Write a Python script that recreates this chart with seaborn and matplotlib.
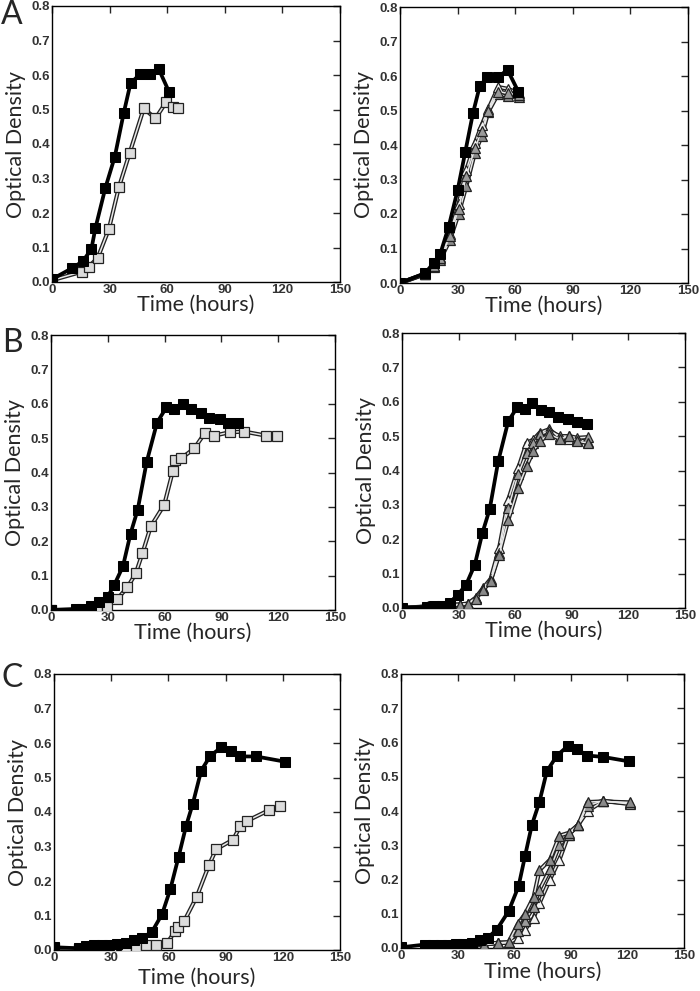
import numpy as np
import pandas as pd
import matplotlib
matplotlib.use('Agg')
import matplotlib.pyplot as plt
import seaborn as sns

# ---- data (time in hours, optical density) ----
# panel A
a_t_black = [0, 10.4, 16, 20.5, 22.6, 27.8, 32.7, 37.4, 40.9, 46, 51.3, 55.7, 60.9]
a_od_black = [0.008, 0.04, 0.06, 0.095, 0.156, 0.273, 0.363, 0.491, 0.576, 0.603, 0.603, 0.616, 0.552]
a_t_gray = [0, 15.7, 19.1, 23.8, 29.6, 34.8, 40.5, 47.8, 53.9, 59.6, 63.1, 65.6]
a_od_gray = [0.005, 0.03, 0.044, 0.07, 0.153, 0.274, 0.375, 0.503, 0.474, 0.523, 0.508, 0.505]

a2_t_black = [0, 13, 17.5, 21, 25.3, 30, 34, 38, 41.5, 45.5, 51.2, 56, 61.6]
a2_od_black = [0.0, 0.028, 0.058, 0.085, 0.162, 0.269, 0.38, 0.492, 0.57, 0.597, 0.597, 0.618, 0.555]
a2_t_tri = [0, 13, 17.5, 21, 26, 30.5, 34.5, 39, 42.5, 46, 51.2, 56, 61.8]
a2_od_tri_g1 = [0.0, 0.025, 0.045, 0.068, 0.124, 0.2, 0.28, 0.377, 0.425, 0.496, 0.549, 0.541, 0.539]
a2_od_tri_g2 = [0.0, 0.026, 0.048, 0.072, 0.135, 0.215, 0.31, 0.39, 0.44, 0.5, 0.555, 0.55, 0.545]
a2_od_tri_w = [0.0, 0.027, 0.05, 0.075, 0.143, 0.228, 0.327, 0.405, 0.457, 0.505, 0.568, 0.563, 0.551]

# panel B
b_t_black = [0, 13, 16.5, 21, 25.3, 30, 33.5, 38, 42, 45.8, 50.5, 56, 61, 65, 69.5, 74, 79, 83.7, 89, 93.5, 99]
b_od_black = [0.0, 0.003, 0.003, 0.013, 0.024, 0.039, 0.074, 0.127, 0.222, 0.292, 0.43, 0.545, 0.59,
              0.584, 0.6, 0.584, 0.574, 0.56, 0.555, 0.543, 0.543]
b_t_gray = [0, 13.5, 18, 24.4, 29.7, 35, 40.4, 44.8, 48.3, 52.7, 59.8, 64.3, 65.5, 68.7, 75.7,
            81.4, 86, 94.3, 102, 113.8, 119.6]
b_od_gray = [0.0, 0.0, 0.0, 0.0, 0.01, 0.032, 0.066, 0.107, 0.165, 0.243, 0.306, 0.403, 0.435,
             0.441, 0.47, 0.516, 0.507, 0.517, 0.519, 0.507, 0.507]

b2_t_black = [0, 13, 17, 21.4, 25.3, 29.7, 34, 38.6, 42.6, 46.5, 51, 56.3, 61.2, 65, 69, 73.5, 78, 82.8, 88, 93, 98]
b2_od_black = [0.0, 0.003, 0.005, 0.007, 0.016, 0.039, 0.068, 0.126, 0.218, 0.288, 0.427, 0.543, 0.585,
               0.58, 0.597, 0.577, 0.569, 0.556, 0.55, 0.54, 0.536]
b2_t_tri = [0, 13.8, 17.5, 21.5, 26, 30.5, 35, 39, 43, 47, 51.5, 56.3, 61.6, 66, 69.6, 73, 78, 83.7, 88.7, 93, 98.5]
b2_od_tri_w = [0.0, 0.005, 0.005, 0.007, 0.01, 0.01, 0.013, 0.03, 0.058, 0.085, 0.175, 0.315, 0.407,
               0.48, 0.49, 0.51, 0.52, 0.495, 0.493, 0.49, 0.482]
b2_od_tri_g1 = [0.0, 0.004, 0.004, 0.006, 0.009, 0.01, 0.012, 0.028, 0.055, 0.08, 0.16, 0.29, 0.39,
                0.45, 0.48, 0.505, 0.515, 0.5, 0.5, 0.495, 0.497]
b2_od_tri_g2 = [0.0, 0.004, 0.004, 0.006, 0.008, 0.009, 0.012, 0.027, 0.052, 0.078, 0.155, 0.255, 0.35,
                0.412, 0.456, 0.485, 0.505, 0.492, 0.5, 0.485, 0.48]

# panel C
c_t_black = [0, 13, 17, 21, 25.4, 29, 33, 37.7, 42, 46, 51.4, 56.7, 61, 65.3, 69.3, 72.8, 77.2,
             82, 87.7, 92.6, 97.4, 106, 121]
c_od_black = [0.008, 0.005, 0.012, 0.014, 0.015, 0.015, 0.016, 0.019, 0.029, 0.034, 0.053, 0.104,
              0.176, 0.269, 0.36, 0.424, 0.52, 0.563, 0.587, 0.578, 0.561, 0.561, 0.546]
c_t_gray = [0, 13, 20, 30, 38, 43, 48.2, 53.5, 59.3, 63.7, 65.2, 68.4, 74.9, 81.2, 85, 94, 97.7,
            101.2, 113, 118.4]
c_od_gray = [0.005, 0.003, 0.005, 0.006, 0.008, 0.01, 0.015, 0.015, 0.02, 0.056, 0.066, 0.085,
             0.155, 0.245, 0.292, 0.32, 0.36, 0.374, 0.406, 0.416]

c2_t_black = [0, 12.7, 17, 21, 25, 29, 33, 37.5, 42, 46, 50.8, 57, 62.3, 65.8, 69.4, 73.3, 77.3,
              82.7, 88.3, 93.3, 98.6, 107, 120.7]
c2_od_black = [0.002, 0.01, 0.01, 0.01, 0.01, 0.011, 0.013, 0.016, 0.024, 0.03, 0.054, 0.107, 0.18,
               0.27, 0.36, 0.425, 0.516, 0.562, 0.589, 0.581, 0.562, 0.558, 0.545]
c2_t_tri = [0, 13, 20, 30, 38, 44, 51.2, 57, 62, 65.8, 70.3, 73.4, 79, 84, 88.8, 94, 98.9, 107, 121.5]
c2_od_tri_g1 = [0.0, 0.005, 0.005, 0.006, 0.007, 0.01, 0.015, 0.017, 0.071, 0.1, 0.149, 0.227, 0.258,
                0.328, 0.336, 0.36, 0.426, 0.428, 0.425]
c2_od_tri_g2 = [0.0, 0.005, 0.005, 0.006, 0.007, 0.01, 0.015, 0.016, 0.05, 0.08, 0.12, 0.17, 0.23,
                0.3, 0.33, 0.36, 0.415, 0.43, 0.42]
c2_od_tri_w = [0.0, 0.005, 0.005, 0.006, 0.007, 0.01, 0.015, 0.015, 0.029, 0.054, 0.088, 0.131, 0.2,
               0.258, 0.33, 0.36, 0.4, 0.428, 0.423]

x_ticks = [0, 30, 60, 90, 120, 150]
y_ticks = [0.0, 0.1, 0.2, 0.3, 0.4, 0.5, 0.6, 0.7, 0.8]

sns.set_style('white')
plt.rcParams['font.family'] = ['Lato', 'DejaVu Sans']

W, H = 700, 991
fig = plt.figure(figsize=(W / 100, H / 100), dpi=100)


def make_ax(left, right, top, bottom):
    return fig.add_axes([left / W, (H - bottom) / H, (right - left) / W, (bottom - top) / H])


def black_series(ax, t, od):
    sns.lineplot(x=t, y=od, ax=ax, color='black', lw=2.7, marker='s', markersize=7,
                 markerfacecolor='black', markeredgecolor='black', errorbar=None, zorder=5)


def outlined_series(ax, t, od, marker, face, size):
    sns.lineplot(x=t, y=od, ax=ax, color='#222222', lw=3.0, errorbar=None, zorder=3)
    sns.lineplot(x=t, y=od, ax=ax, color='#e8e8e8', lw=1.1, marker=marker, markersize=size,
                 markerfacecolor=face, markeredgecolor='#222222', markeredgewidth=0.9,
                 errorbar=None, zorder=4)


def style_ax(ax, xpad):
    ax.set_xlim(0, 150)
    ax.set_ylim(0, 0.8)
    ax.set_xticks(x_ticks)
    ax.set_yticks(y_ticks)
    ax.set_xticklabels([str(v) for v in x_ticks])
    ax.set_yticklabels([f'{v:.1f}' for v in y_ticks])
    ax.tick_params(direction='in', length=5, width=1, top=True, right=True, pad=1.5,
                   labelsize=9.5, labelcolor='#333333')
    for lab in ax.get_xticklabels() + ax.get_yticklabels():
        lab.set_family(['Liberation Sans', 'DejaVu Sans'])
        lab.set_weight('bold')
    for sp in ax.spines.values():
        sp.set_visible(True)
        sp.set_color('black')
        sp.set_linewidth(1)
    ax.set_xlabel('Time (hours)', fontsize=15.5, labelpad=xpad)
    ax.set_ylabel('Optical Density', fontsize=15.5, labelpad=4)


# A
ax = make_ax(52, 340, 6, 282)
outlined_series(ax, a_t_gray, a_od_gray, 's', '#dcdcdc', 7)
black_series(ax, a_t_black, a_od_black)
style_ax(ax, -1)

ax = make_ax(400, 688, 7, 283)
outlined_series(ax, a2_t_tri, a2_od_tri_g1, '^', '#8a8a8a', 7.5)
outlined_series(ax, a2_t_tri, a2_od_tri_w, '^', '#f4f4f4', 7.5)
outlined_series(ax, a2_t_tri, a2_od_tri_g2, '^', '#9a9a9a', 7.5)
black_series(ax, a2_t_black, a2_od_black)
style_ax(ax, -1)

# B
ax = make_ax(51, 335, 335, 610)
outlined_series(ax, b_t_gray, b_od_gray, 's', '#dcdcdc', 7)
black_series(ax, b_t_black, b_od_black)
style_ax(ax, -1)

ax = make_ax(402, 685, 333, 608)
outlined_series(ax, b2_t_tri, b2_od_tri_w, '^', '#f4f4f4', 7.5)
outlined_series(ax, b2_t_tri, b2_od_tri_g1, '^', '#9a9a9a', 7.5)
outlined_series(ax, b2_t_tri, b2_od_tri_g2, '^', '#8a8a8a', 7.5)
black_series(ax, b2_t_black, b2_od_black)
style_ax(ax, -1)

# C
ax = make_ax(54, 340, 674, 950)
outlined_series(ax, c_t_gray, c_od_gray, 's', '#dcdcdc', 7)
black_series(ax, c_t_black, c_od_black)
style_ax(ax, 3)

ax = make_ax(401, 684, 674, 948)
outlined_series(ax, c2_t_tri, c2_od_tri_w, '^', '#f4f4f4', 7.5)
outlined_series(ax, c2_t_tri, c2_od_tri_g2, '^', '#9a9a9a', 7.5)
outlined_series(ax, c2_t_tri, c2_od_tri_g1, '^', '#8a8a8a', 7.5)
black_series(ax, c2_t_black, c2_od_black)
style_ax(ax, 0)

# panel letters
for letter, y in [('A', 15), ('B', 343), ('C', 678)]:
    fig.text(12 / W, 1 - y / H, letter, fontsize=23, ha='center', va='center')

fig.savefig('out.png', dpi=100)
